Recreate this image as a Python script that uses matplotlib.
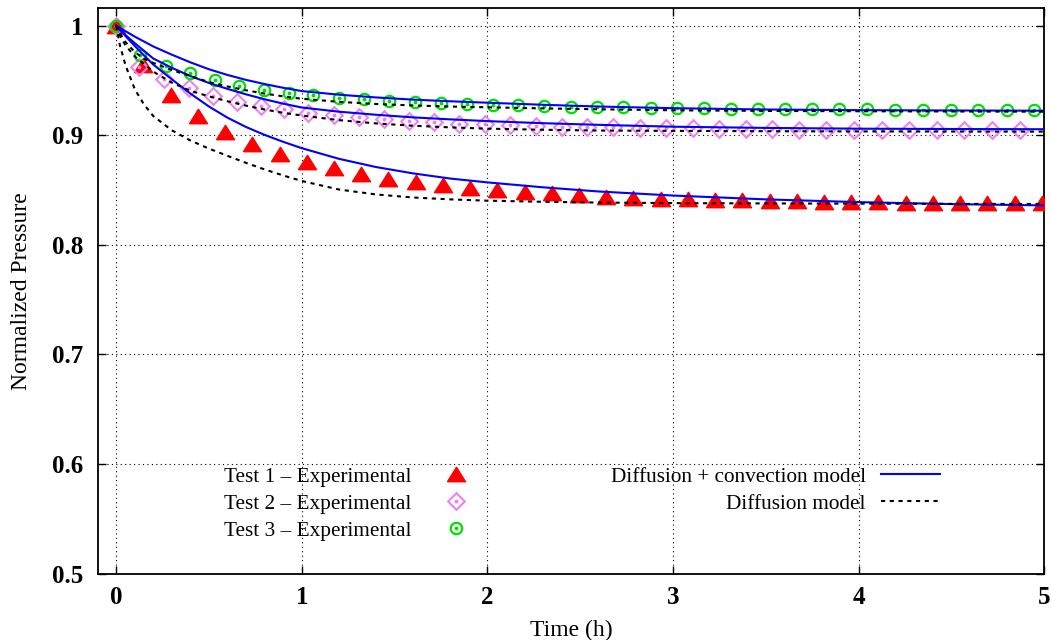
import numpy as np
import matplotlib
matplotlib.use("Agg")
import matplotlib.pyplot as plt
from matplotlib.lines import Line2D
from matplotlib.legend_handler import HandlerTuple

plt.rcParams['font.family'] = ['Liberation Serif', 'DejaVu Serif']
plt.rcParams['font.size'] = 15.3

# experimental data, time in hours
t_test1 = [0, 0.147, 0.293, 0.440, 0.587, 0.733, 0.880, 1.027, 1.173, 1.320,
           1.467, 1.613, 1.760, 1.907, 2.053, 2.200, 2.347, 2.493, 2.640, 2.787,
           2.933, 3.080, 3.227, 3.373, 3.520, 3.667, 3.813, 3.960, 4.107, 4.253,
           4.400, 4.547, 4.693, 4.840, 4.987]
p_test1 = [1.0, 0.964, 0.937, 0.918, 0.903, 0.892, 0.883, 0.876, 0.870, 0.8644,
           0.8604, 0.857, 0.8544, 0.852, 0.850, 0.848, 0.847, 0.8455, 0.844, 0.843,
           0.842, 0.8416, 0.841, 0.8405, 0.840, 0.840, 0.8395, 0.839, 0.839, 0.8385,
           0.8385, 0.838, 0.838, 0.838, 0.838]

t_test2 = [0, 0.1245, 0.2575, 0.394, 0.520, 0.649, 0.779, 0.904, 1.035, 1.175,
           1.310, 1.443, 1.579, 1.714, 1.849, 1.987, 2.122, 2.260, 2.400, 2.537,
           2.678, 2.820, 2.962, 3.106, 3.246, 3.392, 3.535, 3.680, 3.826, 3.977,
           4.124, 4.273, 4.421, 4.569, 4.720, 4.870]
p_test2 = [1.0, 0.9626, 0.951, 0.943, 0.936, 0.9307, 0.9267, 0.9237, 0.9206, 0.9185,
           0.9164, 0.9146, 0.913, 0.9118, 0.9106, 0.910, 0.9091, 0.9085, 0.9078, 0.9076,
           0.9073, 0.9067, 0.9064, 0.9064, 0.9057, 0.9055, 0.9053, 0.9052, 0.905, 0.905,
           0.9049, 0.9048, 0.9048, 0.9047, 0.9046, 0.9046]

t_test3 = [0, 0.130, 0.267, 0.398, 0.530, 0.663, 0.796, 0.933, 1.063, 1.200,
           1.335, 1.471, 1.610, 1.748, 1.888, 2.029, 2.167, 2.307, 2.449, 2.590,
           2.733, 2.880, 3.023, 3.169, 3.312, 3.456, 3.602, 3.750, 3.896, 4.047,
           4.196, 4.345, 4.496, 4.645, 4.798, 4.947]
p_test3 = [1.0, 0.9733, 0.963, 0.9566, 0.950, 0.945, 0.9413, 0.939, 0.9365, 0.9338,
           0.9328, 0.9313, 0.930, 0.9292, 0.9286, 0.928, 0.9274, 0.9267, 0.926, 0.9258,
           0.9255, 0.9252, 0.925, 0.9246, 0.9243, 0.924, 0.9238, 0.9237, 0.9236, 0.9235,
           0.9234, 0.9233, 0.9232, 0.9231, 0.923, 0.923]

# model curves, all on the same time grid
t_model = [0, 0.02, 0.05, 0.1, 0.15, 0.2, 0.3, 0.4, 0.5, 0.6, 0.7, 0.8, 0.9, 1.0,
           1.2, 1.4, 1.6, 1.8, 2.0, 2.3, 2.6, 3.0, 3.5, 4.0, 4.5, 5.0]
conv_test1 = [1.0, 0.9962, 0.9905, 0.9815, 0.9728, 0.9645, 0.951, 0.938, 0.9262, 0.916,
              0.9075, 0.9003, 0.894, 0.8882, 0.8785, 0.871, 0.8652, 0.8605, 0.857, 0.8525,
              0.8487, 0.845, 0.8415, 0.839, 0.8372, 0.836]
diff_test1 = [1.0, 0.982, 0.964, 0.942, 0.928, 0.9175, 0.9045, 0.8952, 0.8878, 0.8812,
              0.8748, 0.8688, 0.8633, 0.8583, 0.8505, 0.846, 0.8432, 0.8415, 0.8403, 0.8393,
              0.8386, 0.8381, 0.8378, 0.8376, 0.8374, 0.8373]
conv_test2 = [1.0, 0.9965, 0.9915, 0.984, 0.977, 0.970, 0.9615, 0.954, 0.9477, 0.9423,
              0.9373, 0.9328, 0.9288, 0.9253, 0.9215, 0.9187, 0.9163, 0.9145, 0.9129, 0.911,
              0.9095, 0.9078, 0.9067, 0.906, 0.9057, 0.9055]
diff_test2 = [1.0, 0.991, 0.982, 0.972, 0.965, 0.958, 0.948, 0.9405, 0.9355, 0.931,
              0.927, 0.9235, 0.9205, 0.918, 0.9138, 0.9108, 0.9087, 0.9072, 0.906, 0.905,
              0.9043, 0.904, 0.9037, 0.9035, 0.9034, 0.9033]
conv_test3 = [1.0, 0.998, 0.995, 0.990, 0.9855, 0.981, 0.9735, 0.9665, 0.9602, 0.955,
              0.9505, 0.9467, 0.9433, 0.9403, 0.937, 0.9345, 0.9325, 0.931, 0.9297, 0.9278,
              0.9262, 0.9247, 0.9235, 0.9229, 0.9226, 0.9224]
diff_test3 = [1.0, 0.993, 0.985, 0.976, 0.9697, 0.966, 0.9595, 0.954, 0.9485, 0.9445,
              0.941, 0.938, 0.9355, 0.9333, 0.9305, 0.9285, 0.9272, 0.9262, 0.9255, 0.9245,
              0.9237, 0.9228, 0.9222, 0.9219, 0.9217, 0.9215]

RED = '#ff0000'
VIOLET = '#ee82ee'
GREEN = '#00e000'
BLUE = '#0000ff'

tri = [(-1, -0.8), (1, -0.8), (0, 0.8), (-1, -0.8)]
tri_style = dict(ls='none', marker=tri, ms=13, color=RED, mec=RED)
dia_style = dict(ls='none', marker=(4, 0, 0), ms=12, mfc='none', mec=VIOLET, mew=1.5)
cir_style = dict(ls='none', marker='o', ms=8.2, mfc='none', mec=GREEN, mew=1.6)
dot_style = dict(ls='none', marker='o', ms=1.8)
dots = (0, (2.0, 2.2))

fig = plt.figure(figsize=(10.52, 6.4), dpi=100)
ax = fig.add_axes([0.0928, 0.1036, 0.8998, 0.8839])

# experimental points
ax.plot(t_test1, p_test1, zorder=3, **tri_style)
ax.plot(t_test2, p_test2, zorder=3, **dia_style)
ax.plot(t_test2, p_test2, color=VIOLET, zorder=3, **dot_style)
ax.plot(t_test3, p_test3, zorder=3, **cir_style)
ax.plot(t_test3, p_test3, color=GREEN, zorder=3, **dot_style)

# model curves
for conv, diff in [(conv_test1, diff_test1), (conv_test2, diff_test2), (conv_test3, diff_test3)]:
    ax.plot(t_model, conv, color=BLUE, lw=1.5, zorder=4)
    ax.plot(t_model, diff, color='black', lw=1.5, ls=dots, zorder=4)

ax.set_xlim(-0.1, 5)
ax.set_ylim(0.5, 1.0161)
ax.set_xticks([0, 1, 2, 3, 4, 5])
ax.set_yticks([0.5, 0.6, 0.7, 0.8, 0.9, 1.0])
ax.set_yticklabels(['0.5', '0.6', '0.7', '0.8', '0.9', '1'])
ax.grid(True, color='black', ls=(0, (1, 3)), lw=0.8)
ax.tick_params(direction='in', length=6, width=1, top=True, right=True, labelsize=18)
ax.tick_params(axis='y', pad=10.5)
ax.tick_params(axis='x', pad=9)
for lab in ax.get_xticklabels() + ax.get_yticklabels():
    lab.set_fontweight('bold')
for sp in ax.spines.values():
    sp.set_linewidth(1.3)

ax.set_xlabel('Time (h)', fontsize=17, labelpad=7.5)
ax.set_ylabel('Normalized Pressure', fontsize=17, labelpad=14)

# keys
leg1 = ax.legend([(Line2D([], [], **tri_style),),
                  (Line2D([], [], **dia_style), Line2D([], [], color=VIOLET, **dot_style)),
                  (Line2D([], [], **cir_style), Line2D([], [], color=GREEN, **dot_style))],
                 ['Test 1 \u2013 Experimental', 'Test 2 \u2013 Experimental', 'Test 3 \u2013 Experimental'],
                 handler_map={tuple: HandlerTuple(ndivide=1)},
                 loc='upper right', bbox_to_anchor=(0.410, 0.1887), frameon=False,
                 markerfirst=False, handlelength=2.8, handletextpad=0.7,
                 labelspacing=0.33, borderpad=0, borderaxespad=0)
ax.add_artist(leg1)

ax.legend([Line2D([], [], color=BLUE, lw=1.5), Line2D([], [], color='black', lw=1.5, ls=dots)],
          ['Diffusion + convection model', 'Diffusion model'],
          loc='upper right', bbox_to_anchor=(0.890, 0.1887), frameon=False,
          markerfirst=False, handlelength=2.8, handletextpad=0.7,
          labelspacing=0.33, borderpad=0, borderaxespad=0)

fig.savefig('out.png', dpi=100)
